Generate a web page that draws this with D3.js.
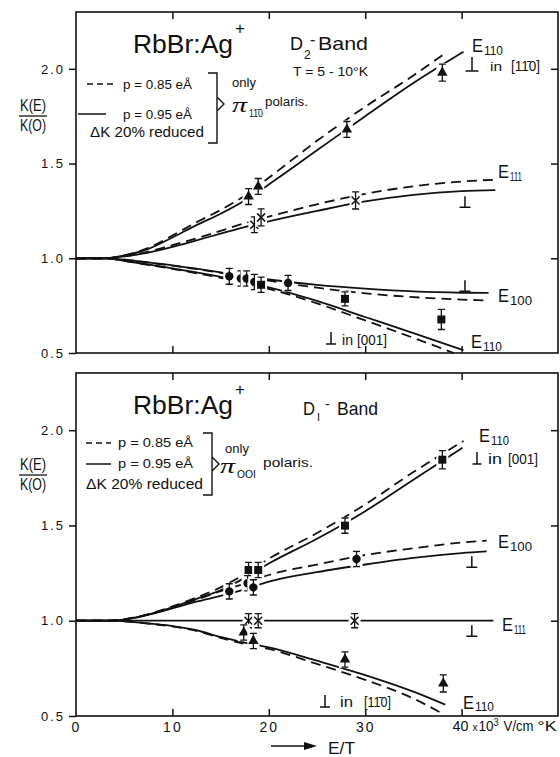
<!DOCTYPE html>
<html>
<head>
<meta charset="utf-8">
<script src="https://cdn.jsdelivr.net/npm/d3@7"></script>
<style>
    body { margin: 0; background: #fff; }
    svg text { font-family: "Liberation Sans", "DejaVu Sans", sans-serif; fill: #111; }
</style>
</head>
<body>
<svg id="chart" width="560" height="757"></svg>
<script>
// ---------------- values ----------------
// x = E/T (10^3 V/cm K), y = K(E)/K(0)
const xLabelTicks = [0, 10, 20, 30];
const frameXTicks = [10, 20, 30, 40];
const yTicks = [0.5, 1.0, 1.5, 2.0];
const yRightTicks = [1.0, 1.5, 2.0];

// D2 band (upper panel) - theory curves
const d2E110UpSolid = [[0, 1], [3, 1], [5, 1.015], [7.5, 1.05], [10, 1.11], [12.5, 1.175], [15, 1.235], [17.5, 1.305], [20, 1.39], [25, 1.57], [30, 1.75], [35, 1.925], [40.2, 2.09]];
const d2E110UpDashed = [[0, 1], [3, 1], [5, 1.015], [7.5, 1.055], [10, 1.12], [12.5, 1.19], [15, 1.255], [17.5, 1.33], [20, 1.425], [25, 1.62], [30, 1.80], [35, 1.965], [38.5, 2.09]];
const d2E111Solid = [[0, 1], [3, 1], [5, 1.01], [7.5, 1.03], [10, 1.06], [12.5, 1.095], [15, 1.13], [17.5, 1.165], [20, 1.195], [25, 1.25], [30, 1.30], [35, 1.335], [40, 1.355], [43.5, 1.36]];
const d2E111Dashed = [[0, 1], [3, 1], [5, 1.01], [7.5, 1.035], [10, 1.07], [12.5, 1.105], [15, 1.145], [17.5, 1.185], [20, 1.22], [25, 1.285], [30, 1.34], [35, 1.38], [40, 1.405], [43.5, 1.415]];
const d2E100Solid = [[0, 1], [3, 1], [5, 0.993], [7.5, 0.978], [10, 0.963], [12.5, 0.945], [15, 0.926], [17.5, 0.906], [20, 0.888], [25, 0.86], [30, 0.84], [35, 0.825], [40, 0.818], [42.8, 0.817]];
const d2E100Dashed = [[0, 1], [3, 1], [5, 0.993], [7.5, 0.977], [10, 0.961], [12.5, 0.943], [15, 0.923], [17.5, 0.902], [20, 0.882], [25, 0.845], [30, 0.815], [35, 0.795], [40, 0.782], [42.3, 0.778]];
const d2E110DownSolid = [[0, 1], [3, 1], [5, 0.987], [7.5, 0.967], [10, 0.947], [12.5, 0.925], [15, 0.902], [17.5, 0.875], [20, 0.847], [25, 0.775], [30, 0.69], [35, 0.605], [40.2, 0.515]];
const d2E110DownDashed = [[0, 1], [3, 1], [5, 0.986], [7.5, 0.965], [10, 0.944], [12.5, 0.921], [15, 0.897], [17.5, 0.868], [20, 0.838], [25, 0.762], [30, 0.672], [35, 0.58], [39.2, 0.5]];

// D2 band - measurements (err = half error bar)
const d2Triangles = [{x: 17.9, y: 1.326, err: 0.042}, {x: 18.9, y: 1.379, err: 0.042}, {x: 28.1, y: 1.68, err: 0.042}, {x: 38.0, y: 1.98, err: 0.045}];
const d2Crosses = [{x: 18.5, y: 1.177, err: 0.042}, {x: 19.2, y: 1.216, err: 0.045}, {x: 29.0, y: 1.305, err: 0.045}];
const d2Circles = [{x: 15.9, y: 0.905, err: 0.042}, {x: 17.1, y: 0.893, err: 0.04}, {x: 17.7, y: 0.893, err: 0.04}, {x: 18.5, y: 0.875, err: 0.04}, {x: 22.0, y: 0.87, err: 0.04}];
const d2Squares = [{x: 19.2, y: 0.86, err: 0.04}, {x: 27.9, y: 0.786, err: 0.037}, {x: 37.9, y: 0.677, err: 0.053}];
const d2Perp = [{x: 40.35, y: 1.27}, {x: 40.35, y: 0.826}];

// D1 band (lower panel) - theory curves
const d1E110UpSolid = [[0, 1], [3.5, 1], [6, 1.015], [8, 1.04], [10, 1.07], [12.5, 1.115], [15, 1.16], [17.5, 1.225], [20, 1.30], [25, 1.43], [30, 1.575], [35, 1.74], [40.1, 1.908]];
const d1E110UpDashed = [[0, 1], [3.5, 1], [6, 1.016], [8, 1.042], [10, 1.075], [12.5, 1.122], [15, 1.175], [17.5, 1.245], [20, 1.325], [25, 1.46], [30, 1.61], [35, 1.78], [40.2, 1.943]];
const d1E100Solid = [[0, 1], [3.5, 1], [6, 1.015], [8, 1.037], [10, 1.065], [12.5, 1.1], [15, 1.13], [17.5, 1.165], [20, 1.205], [25, 1.255], [30, 1.295], [35, 1.33], [40, 1.355], [42.6, 1.364]];
const d1E100Dashed = [[0, 1], [3.5, 1], [6, 1.016], [8, 1.04], [10, 1.07], [12.5, 1.11], [15, 1.155], [17.5, 1.195], [20, 1.24], [25, 1.295], [30, 1.345], [35, 1.38], [40, 1.41], [42.6, 1.42]];
const d1E111Solid = [[0, 1], [43.3, 1]];
const d1E110DownSolid = [[0, 1], [3.5, 1], [6, 0.993], [8, 0.983], [10, 0.972], [12.5, 0.95], [15, 0.915], [17.5, 0.885], [20, 0.86], [25, 0.79], [30, 0.715], [35, 0.628], [38.3, 0.56]];
const d1E110DownDashed = [[0, 1], [3.5, 1], [6, 0.993], [8, 0.982], [10, 0.97], [12.5, 0.947], [15, 0.91], [17.5, 0.878], [20, 0.852], [25, 0.773], [30, 0.69], [35, 0.592], [38, 0.513]];

// D1 band - measurements
const d1Squares = [{x: 17.9, y: 1.266, err: 0.04}, {x: 18.9, y: 1.266, err: 0.04}, {x: 27.9, y: 1.499, err: 0.04}, {x: 38.0, y: 1.845, err: 0.048}];
const d1Circles = [{x: 15.9, y: 1.154, err: 0.04}, {x: 17.8, y: 1.197, err: 0.04}, {x: 18.4, y: 1.175, err: 0.04}, {x: 29.1, y: 1.324, err: 0.04}];
const d1Crosses = [{x: 17.9, y: 1.0, err: 0.037}, {x: 18.9, y: 1.0, err: 0.037}, {x: 28.9, y: 1.0, err: 0.037}];
const d1Triangles = [{x: 17.4, y: 0.938, err: 0.04}, {x: 18.4, y: 0.894, err: 0.04}, {x: 27.9, y: 0.797, err: 0.04}, {x: 38.1, y: 0.671, err: 0.045}];
const d1Perp = [{x: 41.06, y: 1.28}, {x: 41.06, y: 0.918}];

// ---------------- drawing ----------------
const ink = '#111';
let svg = d3.select('svg#chart');
svg.append('rect').attr('width', 560).attr('height', 757).attr('fill', '#fff');

let left = 76, right = 558;
let xScale = d3.scaleLinear().domain([0, 50]).range([left, right]);

function addText(g, x, y, str, size, len) {
    let t = g.append('text').attr('x', x).attr('y', y).attr('font-size', size).text(str);
    if (len) {
        t.attr('textLength', len).attr('lengthAdjust', 'spacingAndGlyphs');
    }
    return t;
}

// the "perpendicular" sign used both as marker and in labels
function perp(g, x, y, w, h) {
    g.append('path')
        .attr('d', 'M' + (x - w / 2) + ',' + y + 'H' + (x + w / 2) + 'M' + x + ',' + y + 'V' + (y - h))
        .attr('fill', 'none').attr('stroke', ink).attr('stroke-width', 1.5);
}

function eLabel(g, x, y, sub, subLen) {
    addText(g, x, y, 'E', 18, 11);
    addText(g, x + 12, y + 3, sub, 13, subLen);
}

function drawPanel(p) {
    let g = svg.append('g');
    let yScale = d3.scaleLinear().domain([0.5, 2.3]).range([p.bottom, p.top]);

    // frame
    g.append('rect')
        .attr('x', left).attr('y', p.top)
        .attr('width', right - left).attr('height', p.bottom - p.top)
        .attr('fill', 'none').attr('stroke', ink).attr('stroke-width', 1.6);

    // left axis: labels, ticks outward
    let yAxis = d3.axisLeft(yScale).tickValues(yTicks).tickSize(7).tickPadding(4)
        .tickFormat(d3.format('.1f'));
    g.append('g').attr('transform', 'translate(' + left + ',0)').call(yAxis)
        .call(a => a.select('.domain').remove())
        .call(a => a.selectAll('text').attr('font-size', 13).style('letter-spacing', '2px'));

    // inward ticks on the other edges
    g.append('g').attr('transform', 'translate(' + right + ',0)')
        .call(d3.axisLeft(yScale).tickValues(yRightTicks).tickSize(7).tickFormat(''))
        .call(a => a.select('.domain').remove());
    g.append('g').attr('transform', 'translate(0,' + p.top + ')')
        .call(d3.axisBottom(xScale).tickValues(frameXTicks).tickSize(7).tickFormat(''))
        .call(a => a.select('.domain').remove());
    g.append('g').attr('transform', 'translate(0,' + p.bottom + ')')
        .call(d3.axisTop(xScale).tickValues(frameXTicks).tickSize(7).tickFormat(''))
        .call(a => a.select('.domain').remove());
    g.selectAll('.tick line').attr('stroke', ink).attr('stroke-width', 1.5);

    // theory curves
    let line = d3.line()
        .x(function (d) { return xScale(d[0]); })
        .y(function (d) { return yScale(d[1]); })
        .curve(d3.curveMonotoneX);
    g.selectAll('path.curve')
        .data(p.curves)
        .enter().append('path')
        .attr('class', 'curve')
        .attr('d', function (d) { return line(d.pts); })
        .attr('fill', 'none')
        .attr('stroke', ink)
        .attr('stroke-width', 1.8)
        .attr('stroke-dasharray', function (d) { return d.dashed ? '10,6' : null; });

    // measured points with error bars (white patch behind breaks the curves like the original)
    p.points.forEach(function (set) {
        let m = g.append('g').selectAll('g')
            .data(set.data)
            .enter().append('g')
            .attr('transform', function (d) {
                return 'translate(' + xScale(d.x) + ',' + yScale(d.y) + ')';
            });
        m.append('rect')
            .attr('x', -6).attr('width', 12)
            .attr('y', function (d) { return yScale(d.y) - yScale(d.y - d.err) - 1; })
            .attr('height', function (d) { return 2 * (yScale(d.y - d.err) - yScale(d.y)) + 2; })
            .attr('fill', '#fff');
        m.append('path')
            .attr('d', function (d) {
                let h = yScale(d.y - d.err) - yScale(d.y);
                return 'M-3.5,' + (-h) + 'H3.5M0,' + (-h) + 'V' + h + 'M-3.5,' + h + 'H3.5';
            })
            .attr('fill', 'none').attr('stroke', ink).attr('stroke-width', 1.3);
        if (set.shape === 'circle') {
            m.append('circle').attr('r', 4.2).attr('fill', ink);
        } else if (set.shape === 'square') {
            m.append('rect').attr('x', -4).attr('y', -4).attr('width', 8).attr('height', 8).attr('fill', ink);
        } else if (set.shape === 'triangle') {
            m.append('path').attr('d', d3.symbol(d3.symbolTriangle, 48)).attr('fill', ink);
        } else {
            m.append('path').attr('d', 'M-4,-4L4,4M-4,4L4,-4')
                .attr('stroke', ink).attr('stroke-width', 1.5);
        }
    });

    p.perps.forEach(function (d) {
        perp(g, xScale(d.x), yScale(d.y), 11, 11);
    });

    // title
    addText(g, 133, p.top + 41, 'RbBr:Ag', 26, 100);
    addText(g, 235, p.top + 22, '+', 17);

    // y label as fraction
    addText(g, 20, p.top + p.fracY, 'K(E)', 17, 26);
    g.append('line').attr('x1', 19).attr('x2', 47)
        .attr('y1', p.top + p.fracY + 5).attr('y2', p.top + p.fracY + 5)
        .attr('stroke', ink).attr('stroke-width', 1.3);
    addText(g, 20, p.top + p.fracY + 20, 'K(O)', 17, 26);

    // legend block
    let L = p.legend;
    g.append('line').attr('x1', L.dashX[0]).attr('x2', L.dashX[1]).attr('y1', L.dashY).attr('y2', L.dashY)
        .attr('stroke', ink).attr('stroke-width', 1.5).attr('stroke-dasharray', '6,4');
    g.append('line').attr('x1', L.solidX[0]).attr('x2', L.solidX[1]).attr('y1', L.solidY).attr('y2', L.solidY)
        .attr('stroke', ink).attr('stroke-width', 1.5);
    addText(g, L.textX, L.t1Y, 'p = 0.85 eÅ', 13, L.textLen);
    addText(g, L.textX, L.t2Y, 'p = 0.95 eÅ', 13, L.textLen);
    addText(g, L.t3X, L.t3Y, 'ΔK 20% reduced', 14, L.t3Len);
    let b = L.bracket;
    g.append('path')
        .attr('d', 'M' + (b.x - 9) + ',' + b.y0 + 'H' + b.x + 'V' + b.y1 + 'H' + (b.x - 9) +
            'M' + b.x + ',' + (b.tip - 7) + 'L' + (b.x + 7) + ',' + b.tip + 'L' + b.x + ',' + (b.tip + 7))
        .attr('fill', 'none').attr('stroke', ink).attr('stroke-width', 1.4);
    addText(g, L.onlyX, L.onlyY, 'only', 13, 24);
    addText(g, L.piX, L.piY, 'π', 22, 15)
        .style('font-family', '"Liberation Serif", "DejaVu Serif", serif').style('font-style', 'italic');
    addText(g, L.piX + 17, L.piY + 5, L.sub, 11, L.subLen);
    addText(g, L.polX, L.polY, 'polaris.', 12, L.polLen);

    return {g: g, yScale: yScale};
}

// ---------------- upper panel: D2 band ----------------
let upperPanel = drawPanel({
    top: 12, bottom: 353, fracY: 99,
    curves: [
        {pts: d2E110UpSolid, dashed: false}, {pts: d2E110UpDashed, dashed: true},
        {pts: d2E111Solid, dashed: false}, {pts: d2E111Dashed, dashed: true},
        {pts: d2E100Solid, dashed: false}, {pts: d2E100Dashed, dashed: true},
        {pts: d2E110DownSolid, dashed: false}, {pts: d2E110DownDashed, dashed: true}
    ],
    points: [
        {data: d2Triangles, shape: 'triangle'}, {data: d2Crosses, shape: 'cross'},
        {data: d2Circles, shape: 'circle'}, {data: d2Squares, shape: 'square'}
    ],
    perps: d2Perp,
    legend: {
        dashX: [87, 116], dashY: 84, solidX: [78, 106], solidY: 114,
        textX: 123, textLen: 69, t1Y: 89, t2Y: 119, t3X: 90, t3Y: 137, t3Len: 114,
        bracket: {x: 217, y0: 73, y1: 143, tip: 104},
        onlyX: 232, onlyY: 87, piX: 232, piY: 112, sub: '11\u03040', subLen: 14,
        polX: 265, polY: 106, polLen: 43
    }
});
let ug = upperPanel.g;
addText(ug, 290, 50, 'D', 19, 13);
addText(ug, 304, 59, '2', 12);
addText(ug, 310, 45, '-', 16);
addText(ug, 318, 50, 'Band', 19, 50);
addText(ug, 293, 76, 'T = 5 - 10°K', 12, 75);
eLabel(ug, 472, 52, '110', 19);
perp(ug, 472, 71, 13, 14);
addText(ug, 490, 71, 'in', 13, 12);
addText(ug, 511, 71, '[11\u03040]', 14, 29);
eLabel(ug, 498, 178, '111', 12);
eLabel(ug, 498, 302, '100', 22);
eLabel(ug, 471, 348, '110', 19);
perp(ug, 331, 344, 10, 12);
addText(ug, 342, 345, 'in', 14, 11);
addText(ug, 357, 345, '[001]', 14, 30);

// ---------------- lower panel: D1 band ----------------
let lowerPanel = drawPanel({
    top: 373, bottom: 716, fracY: 97,
    curves: [
        {pts: d1E110UpSolid, dashed: false}, {pts: d1E110UpDashed, dashed: true},
        {pts: d1E100Solid, dashed: false}, {pts: d1E100Dashed, dashed: true},
        {pts: d1E111Solid, dashed: false},
        {pts: d1E110DownSolid, dashed: false}, {pts: d1E110DownDashed, dashed: true}
    ],
    points: [
        {data: d1Squares, shape: 'square'}, {data: d1Circles, shape: 'circle'},
        {data: d1Crosses, shape: 'cross'}, {data: d1Triangles, shape: 'triangle'}
    ],
    perps: d1Perp,
    legend: {
        dashX: [86, 111], dashY: 443, solidX: [86, 111], solidY: 464,
        textX: 118, textLen: 75, t1Y: 447, t2Y: 468, t3X: 86, t3Y: 489, t3Len: 117,
        bracket: {x: 212, y0: 433, y1: 495, tip: 464},
        onlyX: 225, onlyY: 453, piX: 220, piY: 473, sub: 'OOI', subLen: 19,
        polX: 263, polY: 467, polLen: 50
    }
});
let lg = lowerPanel.g;
addText(lg, 303, 415, 'D', 19, 12);
addText(lg, 317, 421, 'I', 11);
addText(lg, 325, 409, '-', 14);
addText(lg, 337, 415, 'Band', 19, 41);
eLabel(lg, 479, 442, '110', 18);
perp(lg, 477, 464, 9, 12);
addText(lg, 488, 464, 'in', 14, 14);
addText(lg, 508, 464, '[001]', 14, 30);
eLabel(lg, 498, 548, '100', 22);
eLabel(lg, 502, 631, '111', 12);
// lower E110 label sits just above the axis unit, kept clear of it
addText(lg, 463, 709, 'E', 18, 11);
addText(lg, 475, 711, '110', 13, 19);
perp(lg, 325, 707, 10, 12);
addText(lg, 340, 707, 'in', 14, 13);
addText(lg, 364, 707, '[11\u03040]', 14, 27);

// x tick labels along the lower panel
let xAxis = d3.axisBottom(xScale).tickValues(xLabelTicks).tickSize(0).tickPadding(6)
    .tickFormat(d3.format('d'));
lg.append('g').attr('transform', 'translate(0,716)').call(xAxis)
    .call(a => a.select('.domain').remove())
    .call(a => a.selectAll('text').attr('font-size', 14).style('letter-spacing', '2px'));
// last tick carries the unit
let x40 = xScale(40);
addText(lg, x40 - 9, 731, '40', 14, 16);
addText(lg, x40 + 11, 731, 'x', 11, 5);
addText(lg, x40 + 17, 731, '10', 14, 15);
addText(lg, x40 + 32, 726, '3', 10, 5);
addText(lg, x40 + 42, 731, 'V/cm', 14, 30);
addText(lg, x40 + 76, 731, '°K', 14, 19);

// E/T arrow
svg.append('line').attr('x1', 271).attr('x2', 312).attr('y1', 746).attr('y2', 746)
    .attr('stroke', ink).attr('stroke-width', 1.5);
svg.append('path').attr('d', 'M304,742L317,746L304,750Z').attr('fill', ink);
addText(svg, 328, 754, 'E/T', 17, 27);
</script>
</body>
</html>
